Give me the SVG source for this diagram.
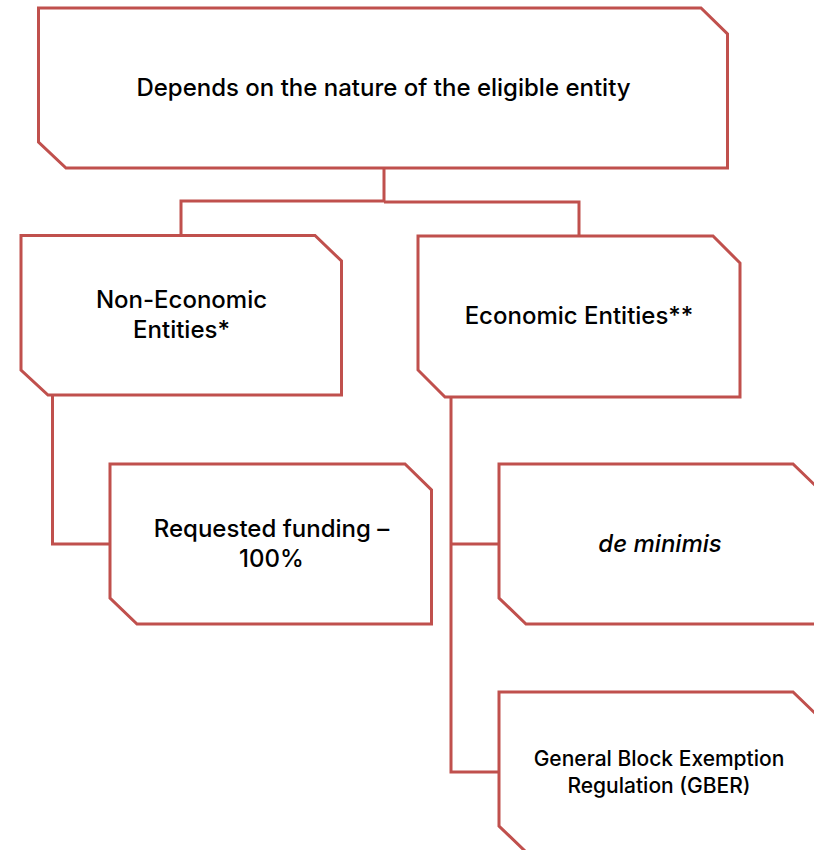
<svg xmlns="http://www.w3.org/2000/svg" width="814" height="850" viewBox="0 0 814 850">
<style>
.box{fill:#fff;stroke:#C0504D;stroke-width:3;stroke-linejoin:miter}
.con{fill:none;stroke:#C0504D;stroke-width:3}
.t{font-family:Inter,"Liberation Sans",sans-serif;font-weight:500;fill:#000;text-anchor:middle}
.l{font-size:24px}
.s{font-size:21px}
.i{font-style:italic}
</style>
<rect width="814" height="850" fill="#fff"/>
<g id="connectors">
<path class="con" d="M384,168 V202 M181,236 V201 H384 M384,202 H579 V236"/>
<path class="con" d="M52.5,395 V544 H110"/>
<path class="con" d="M451,397 V772 H499 M451,544 H499"/>
</g>
<g id="root">
<path class="box" d="M38.5,8 H701 L727.5,34 V168 H66 L38.5,142 Z"/>
<text class="t l" x="383.5" y="96">Depends on the nature of the eligible entity</text>
</g>
<g id="non-economic">
<path class="box" d="M21,235.5 H315 L341.5,261 V395 H48 L21,370 Z"/>
<text class="t l" x="181.5" y="308">Non-Economic</text>
<text class="t l" x="181.5" y="338">Entities*</text>
</g>
<g id="economic">
<path class="box" d="M418,236 H713 L740,263 V397 H445 L418,370 Z"/>
<text class="t l" x="579" y="324">Economic Entities**</text>
</g>
<g id="requested-funding">
<path class="box" d="M110,464 H405 L431.5,490 V624 H137 L110,598 Z"/>
<text class="t l" x="271.5" y="537">Requested funding –</text>
<text class="t l" x="271.5" y="567">100%</text>
</g>
<g id="de-minimis">
<path class="box" d="M499,464 H793 L820,490 V624 H526 L499,598 Z"/>
<text class="t l i" x="660" y="552">de minimis</text>
</g>
<g id="gber">
<path class="box" d="M499,692 H793 L820,718 V852 H526 L499,826 Z"/>
<text class="t s" x="659" y="766">General Block Exemption</text>
<text class="t s" x="659" y="793">Regulation (GBER)</text>
</g>
</svg>
